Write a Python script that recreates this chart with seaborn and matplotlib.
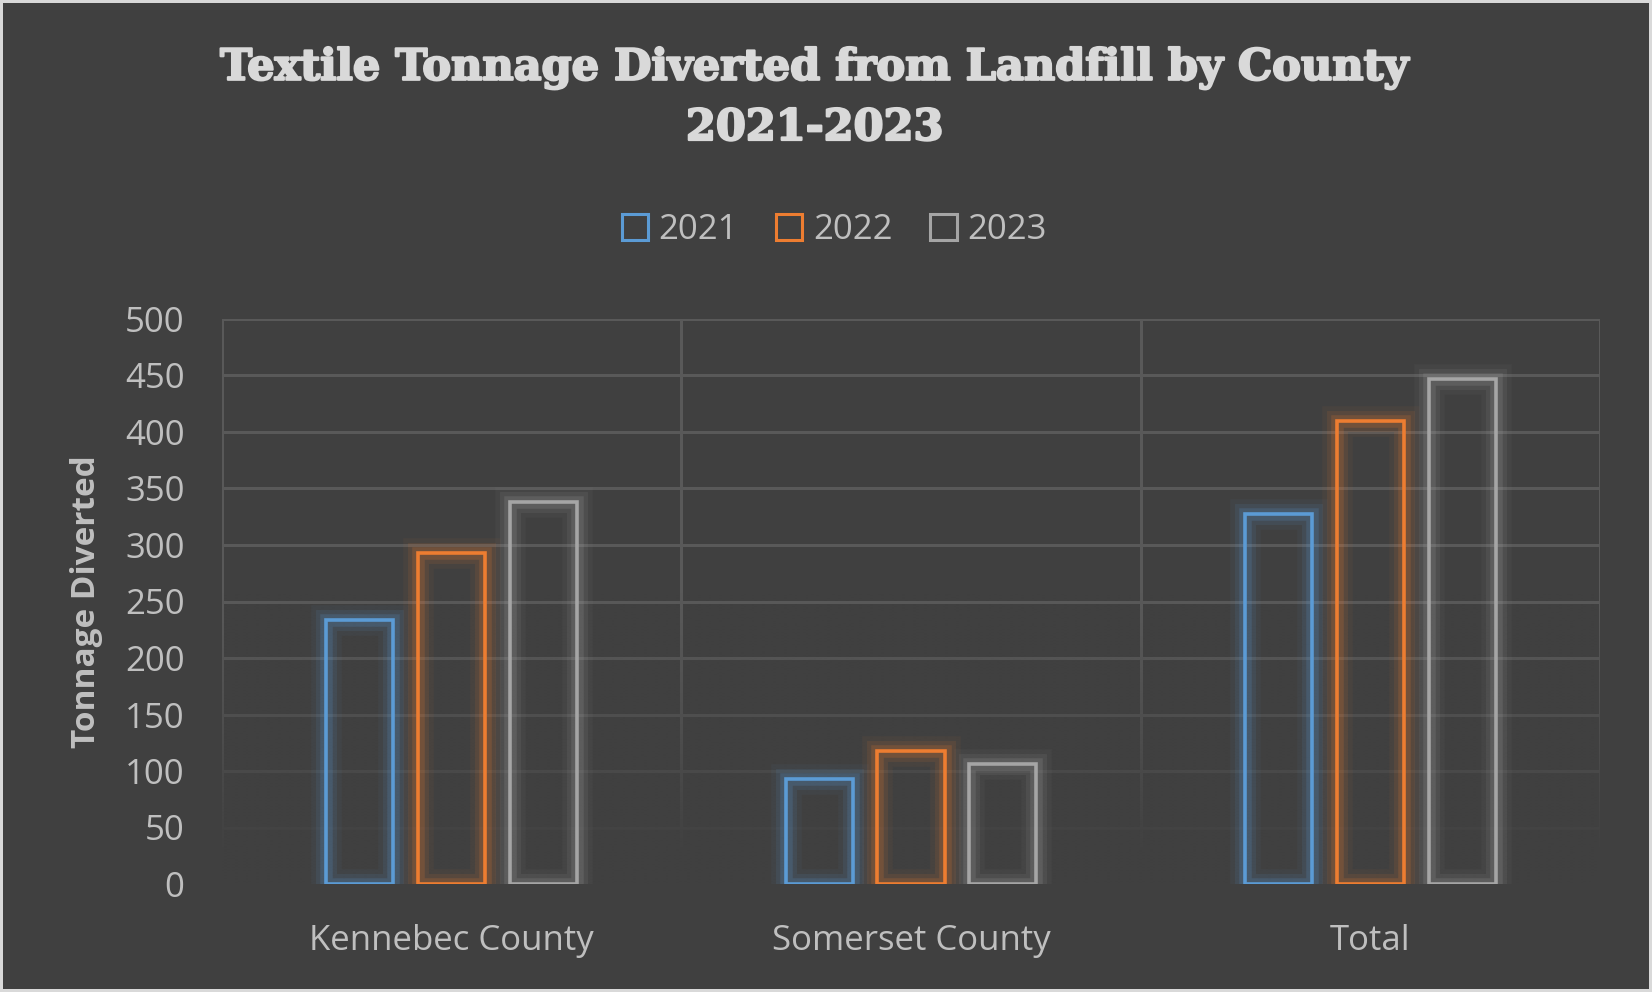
import numpy as np
import pandas as pd
import matplotlib
matplotlib.use("Agg")
import matplotlib.pyplot as plt
import matplotlib.patheffects as pe
from matplotlib.ticker import FixedLocator
import seaborn as sns

# ---- data ----
counties = ["Kennebec County", "Somerset County", "Total"]
years = ["2021", "2022", "2023"]
tons_2021 = [234, 93, 327.5]
tons_2022 = [292.5, 117.5, 410]
tons_2023 = [338, 106.5, 446.5]
y_ticks = [0, 50, 100, 150, 200, 250, 300, 350, 400, 450, 500]
colors = ["#5B9BD5", "#ED7D31", "#A5A5A5"]

df = pd.DataFrame({
    "County": counties * 3,
    "Year": [y for y in years for _ in counties],
    "Tons": tons_2021 + tons_2022 + tons_2023,
})

BG = "#404040"
GRID = "#595959"
TXT = "#BFBFBF"
TITLE = "#D9D9D9"

sns.set_theme(style="dark")
plt.rcParams["font.family"] = ["Open Sans", "DejaVu Sans"]

W, H = 1652, 992
fig = plt.figure(figsize=(W / 100, H / 100), dpi=100, facecolor=BG)
fig.patch.set_edgecolor("#D9D9D9")
fig.patch.set_linewidth(3)
left, right, top, bottom = 222, 1600, 319, 884
ax = fig.add_axes([left / W, 1 - bottom / H, (right - left) / W, (bottom - top) / H])
ax.set_facecolor(BG)

sns.barplot(data=df, x="County", y="Tons", hue="Year", palette=colors,
            fill=False, width=0.6, gap=0.27, linewidth=2.6, errorbar=None,
            ax=ax, zorder=3)

# legend (grab handles before adding glow)
handles, labels = ax.get_legend_handles_labels()
if ax.legend_:
    ax.legend_.remove()
leg = fig.legend(handles, labels, loc="center", bbox_to_anchor=(0.505, 1 - 230 / H),
                 ncol=3, frameon=False, fontsize=25, handlelength=0.75,
                 handleheight=0.75, handletextpad=0.3, columnspacing=1.1,
                 labelcolor=TXT)
for h in leg.legend_handles:
    h.set_linewidth(2.2)
    h.set_path_effects([])

# glow on bars
for p in ax.patches:
    c = p.get_edgecolor()
    p.set_path_effects([
        pe.Stroke(linewidth=22, foreground=c, alpha=0.05),
        pe.Stroke(linewidth=15, foreground=c, alpha=0.10),
        pe.Stroke(linewidth=9, foreground=c, alpha=0.18),
        pe.Normal(),
    ])

ax.set_ylim(0, 500)
ax.set_xlim(-0.5, 2.5)
ax.yaxis.set_major_locator(FixedLocator(y_ticks))
ax.set_yticklabels([str(v) for v in y_ticks])
ax.xaxis.set_minor_locator(FixedLocator([-0.5, 0.5, 1.5, 2.5]))
ax.set_axisbelow(True)
ax.grid(axis="y", which="major", color=GRID, linewidth=2.2, zorder=0)
ax.grid(axis="x", which="minor", color=GRID, linewidth=2.2, zorder=0)
ax.grid(axis="x", which="major", visible=False)
for s in ax.spines.values():
    s.set_visible(False)
ax.tick_params(axis="both", which="both", length=0, colors=TXT, labelsize=25)
ax.tick_params(axis="y", pad=27)
ax.tick_params(axis="x", pad=29)
for lbl in ax.get_xticklabels() + ax.get_yticklabels():
    lbl.set_color(TXT)

# fade gridlines toward the bottom
grad = np.zeros((200, 2, 4))
bg_rgb = matplotlib.colors.to_rgb(BG)
grad[..., 0], grad[..., 1], grad[..., 2] = bg_rgb
yy = np.linspace(1, 0, 200)  # top -> bottom in axes fraction
alpha = np.clip((0.52 - yy) / 0.47, 0, 1) ** 1.2
grad[..., 3] = alpha[:, None]
ax.imshow(grad, extent=[0, 1, 0, 1], transform=ax.transAxes, aspect="auto",
          zorder=1, interpolation="bilinear")
ax.set_xlim(-0.5, 2.5)
ax.set_ylim(0, 500)

ax.set_xlabel("")
ax.set_ylabel("Tonnage Diverted", color=TXT, fontsize=24, fontweight="bold")
ax.yaxis.set_label_coords(-0.086, 0.5)

# title
tfont = dict(family=["DejaVu Serif"], fontweight="heavy", color=TITLE, fontsize=31,
             ha="center", va="center",
             path_effects=[pe.withStroke(linewidth=1.6, foreground=TITLE)])
fig.text(0.493, 1 - 68 / H, "Textile Tonnage Diverted from Landfill by County", **tfont)
fig.text(0.493, 1 - 128 / H, "2021-2023", **tfont)

fig.savefig("out.png", dpi=100, facecolor=BG, edgecolor="#D9D9D9")
